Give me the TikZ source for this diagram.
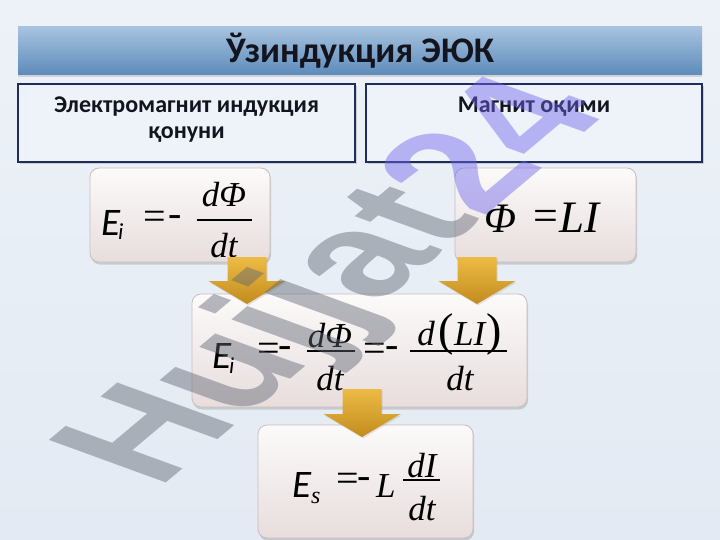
\documentclass[tikz,border=0pt]{standalone}
\usepackage{fontspec}
\setmainfont{Liberation Serif}
\newfontfamily\calfont{Carlito}
\newfontfamily\wmfont{Liberation Sans}
\usetikzlibrary{shadows,calc}
\newcommand\setfs[1]{\fontsize{#1}{#1}\selectfont}
\definecolor{bgtop}{HTML}{EDF2F8}
\definecolor{bgbot}{HTML}{E3EAF3}
\definecolor{navy}{HTML}{1F2D5C}
\definecolor{tbfill}{HTML}{EEF3F9}
\definecolor{tbtop}{HTML}{A7C3DF}
\definecolor{tbbot}{HTML}{5D8BBA}
\definecolor{fbtop}{HTML}{FCFAFA}
\definecolor{fbbot}{HTML}{E8DDDD}
\definecolor{fborder}{HTML}{C9BDBD}
\definecolor{artop}{HTML}{EDBB45}
\definecolor{arbot}{HTML}{C28C1E}
\definecolor{wmgray}{RGB}{95,102,115}
\definecolor{wmviolet}{RGB}{110,100,235}
\definecolor{ink}{HTML}{14141E}
\tikzset{
  titlebar/.style={draw=none, top color=tbtop, bottom color=tbbot, inner sep=0pt,
    minimum width=684pt, minimum height=48pt,
    drop shadow={opacity=0.25, shadow xshift=0pt, shadow yshift=-2pt}},
  textbox/.style={draw=navy, line width=2.5pt, fill=tbfill, inner sep=0pt,
    minimum height=78pt,
    drop shadow={opacity=0.3, shadow xshift=1.5pt, shadow yshift=-2pt}},
  fbox/.style={rounded corners=9pt, draw=fborder, line width=0.8pt,
    top color=fbtop, bottom color=fbbot, inner sep=0pt,
    drop shadow={opacity=0.3, shadow xshift=1pt, shadow yshift=-2.5pt}},
  goldar/.style={top color=artop, bottom color=arbot,
    drop shadow={opacity=0.2, shadow xshift=1pt, shadow yshift=-1.5pt}},
  lbl/.style={inner sep=0pt, anchor=base, text=ink, font=\calfont\bfseries\setfs{24}},
  mi/.style={inner sep=0pt, anchor=base, font=\itshape\setfs{35}},
  ee/.style={inner sep=0pt, anchor=base west, font=\calfont\itshape\setfs{39}},
  sub/.style={inner sep=0pt, anchor=base west, font=\calfont\itshape\setfs{23}},
  op/.style={inner sep=0pt, anchor=center, font=\setfs{40}},
  fbar/.style={line width=1.8pt},
  wm/.style={transform shape, anchor=base west, inner sep=0pt, text opacity=0.45,
    font=\wmfont\bfseries\setfs{100}}
}
\newcommand\goldarrow[2]{%
  \path[goldar] ($(#1)+(-19.5,0)$) -- ($(#1)+(19.5,0)$) -- ($(#2)+(19.5,-23)$)
    -- ($(#2)+(38.5,-23)$) -- (#2) -- ($(#2)+(-38.5,-23)$) -- ($(#2)+(-19.5,-23)$) -- cycle;}
\begin{document}
\begin{tikzpicture}[x=1pt,y=-1pt]
\useasboundingbox (0,0) rectangle (720,540);
\shade[top color=bgtop, bottom color=bgbot] (0,0) rectangle (720,540);

% title
\node[titlebar] (title) at (360,51) {};
\node[inner sep=0pt, anchor=base, text=ink, font=\calfont\bfseries\setfs{36}] (ttext) at (360,63) {Ўзиндукция ЭЮК};

% header boxes
\node[textbox, minimum width=337pt] (lbox) at (186.5,123) {};
\node[textbox, minimum width=336pt] (rbox) at (534,123) {};
\node[lbl] (lt1) at (186.5,113) {Электромагнит индукция};
\node[lbl] (lt2) at (186.5,139) {қонуни};
\node[lbl] (rt1) at (534,113) {Магнит оқими};

% formula boxes
\node[fbox, minimum width=180pt, minimum height=94pt] (b1) at (180,215) {};
\node[fbox, minimum width=181pt, minimum height=94pt] (b2) at (545.5,215) {};
\node[fbox, minimum width=335pt, minimum height=113pt] (b3) at (359.5,350.5) {};
\node[fbox, minimum width=215pt, minimum height=113pt] (b4) at (365.5,481.5) {};

% box 1
\node[ee] (f1E) at (101,236) {E};
\node[sub] (f1i) at (118,240) {i};
\node[op] (f1eq) at (155,220) {=};
\node[op] (f1m) at (175,221) {-};
\node[mi] (f1n) at (224,207) {dΦ};
\draw[fbar] (197,220) -- (252,220);
\node[mi] (f1d) at (224,257) {dt};

% box 2
\node[inner sep=0pt, anchor=base west, font=\itshape\setfs{42}] (f2p) at (484,233) {Φ};
\node[op, font=\setfs{44}] (f2eq) at (545.5,220) {=};
\node[inner sep=0pt, anchor=base west, font=\itshape\setfs{45}] (f2li) at (559,233) {LI};

% box 3
\node[ee] (f3E) at (212,368) {E};
\node[sub] (f3i) at (229,373) {i};
\node[op] (f3eq1) at (268.5,352) {=};
\node[op] (f3m1) at (285,352) {-};
\node[mi] (f3n1) at (330,347) {dΦ};
\draw[fbar] (307,351) -- (355,351);
\node[mi] (f3d1) at (330,390) {dt};
\node[op] (f3eq2) at (375,352) {=};
\node[op] (f3m2) at (392,352) {-};
\node[mi] (f3n2) at (459.5,345) {d\hspace{4pt}{\upshape\setfs{46}(}LI\hspace{1pt}{\upshape\setfs{46})}};
\draw[fbar] (410,351) -- (507,351);
\node[mi] (f3d2) at (460,390) {dt};

% box 4
\node[ee] (f4E) at (292,497) {E};
\node[inner sep=0pt, anchor=base west, font=\itshape\setfs{24}] (f4s) at (311,503) {s};
\node[op] (f4eq) at (347.5,482) {=};
\node[op] (f4m) at (364,483) {-};
\node[inner sep=0pt, anchor=base west, font=\itshape\setfs{35}] (f4L) at (376,497) {L};
\node[mi] (f4n) at (422,477) {dI};
\draw[fbar] (403,480) -- (440,480);
\node[mi] (f4d) at (422,520) {dt};

% arrows
\coordinate (a1s) at (247,257); \coordinate (a1e) at (247,304);
\coordinate (a2s) at (477,257); \coordinate (a2e) at (477,304);
\coordinate (a3s) at (362,389); \coordinate (a3e) at (362,437);
\goldarrow{a1s}{a1e}
\goldarrow{a2s}{a2e}
\goldarrow{a3s}{a3e}

% watermark
\begin{scope}[cm={1.164,0.977,-1.70,0.619,(158.5,490)}]
\node[wm] (wmark) at (0,0) {\color{wmgray}Hujjat\color{wmviolet}24};
\end{scope}
\end{tikzpicture}
\end{document}
